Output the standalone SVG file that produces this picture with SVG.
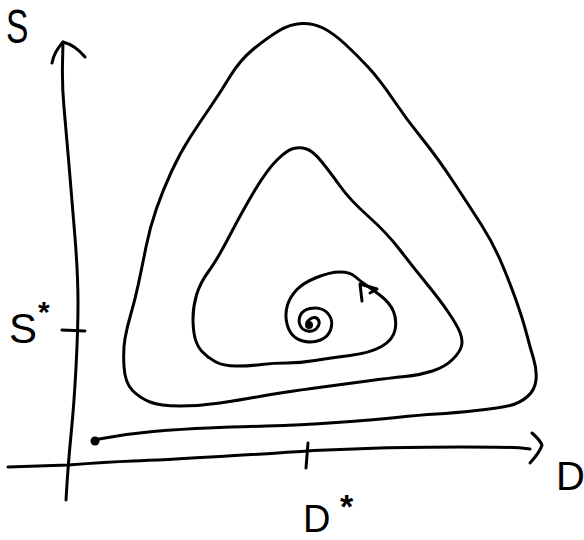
<svg xmlns="http://www.w3.org/2000/svg" width="584" height="540" viewBox="0 0 584 540">
<style>
.ln{fill:none;stroke:#000;stroke-width:3;stroke-linecap:round;stroke-linejoin:round}
.dot{fill:#000}
.lbl{font-family:"Liberation Sans",Arial,sans-serif;fill:#000}
.star{font-family:"Liberation Sans",Arial,sans-serif;fill:#000;font-weight:bold}
</style>
<rect width="584" height="540" fill="#fff"/>
<g id="axes">
  <g id="y-axis">
    <path class="ln" d="M66,500 Q68,465 71,435 Q74,405 76,367.5 Q78,330 78,302.5 Q78,275 75,237.5 Q72,200 69,165 Q66,130 64,107.5 Q62,85 62.5,63.5 L63,42"/>
    <path class="ln" d="M52,63 Q54,52 63,42 Q75,45 85,57"/>
    <path class="ln" d="M62,330 L85,331"/>
  </g>
  <g id="x-axis">
    <path class="ln" d="M8,467 L68,465 Q107,462 133,461 Q160,460 220,456.5 Q280,453 313.5,450.5 Q347,449 380,448 Q413,447 463,447 Q513,447 521.5,448 L530,449"/>
    <path class="ln" d="M532,433 Q540,440 542,445 Q540,452 530,463"/>
    <path class="ln" d="M308,443 L306,468"/>
  </g>
</g>
<g id="connectors">
  <path id="trajectory" class="ln" d="M93,440 Q123,434 153,431.5 Q183,429 208,428 Q233,427 266.5,426 Q300,425 336.5,422.5 Q373,420 396.5,417.5 Q420,415 436.5,414 Q453,413 476.5,410.5 Q500,408 510,405.5 Q520,403 527.5,396.5 Q535,390 536,380 Q537,370 533.5,358.5 Q530,347 526.5,333.5 Q523,320 516.5,301.5 Q510,283 501.5,263 Q493,243 481.5,225 Q470,207 453.5,182 Q437,157 422,138.5 Q407,120 393.5,100 Q380,80 368.5,67.5 Q357,55 345,44 Q333,33 323,28 Q313,23 301.5,23.5 Q290,24 278.5,31 Q267,38 253.5,49 Q240,60 230,76.5 Q220,93 210,107.5 Q200,122 190,137.5 Q180,153 171.5,171.5 Q163,190 156.5,208.5 Q150,227 146,247 Q142,267 138.5,283.5 Q135,300 131,313.5 Q127,327 125,338.5 Q123,350 124,366.5 Q125,383 132.5,390.5 Q140,398 150,402 Q160,406 180,406 Q200,406 220,403 Q240,400 253.5,397.5 Q267,395 283.5,392.5 Q300,390 322.5,387 Q345,384 367.5,381 Q390,378 405,376.5 Q420,375 432.5,371 Q445,367 452.5,359.5 Q460,352 461.5,346 Q463,340 460,332.5 Q457,325 448.5,312.5 Q440,300 426.5,283.5 Q413,267 400,250 Q387,233 368.5,216.5 Q350,200 340,186 Q330,172 321.5,161.5 Q313,151 306.5,149 Q300,147 293.5,148.5 Q287,150 277,160 Q267,170 255,190 Q243,210 230,235 Q217,260 208.5,271.5 Q200,283 196.5,295 Q193,307 193,318.5 Q193,330 195,338 Q197,346 202,351.5 Q207,357 215,361.5 Q223,366 236.5,366 Q250,366 261.5,364.5 Q273,363 286.5,363 Q300,363 315,360.5 Q330,358 350,355.5 Q370,353 381.5,346.5 Q393,340 395,330 Q397,320 393.5,311.5 Q390,303 381,296 Q372,289 366,285 Q360,281 355,276.5 Q350,272 340,272 Q330,272 316.5,277.5 Q303,283 296.5,290 Q290,297 287.5,305 Q285,313 286.5,321.5 Q288,330 292.5,335 Q297,340 305,341.5 Q313,343 320.5,340 Q328,337 330.5,330 Q333,323 330.5,317.5 Q328,312 322.5,309.5 Q317,307 310,308.5 Q303,310 300.5,315 Q298,320 300,325 Q302,330 307.5,331 Q313,332 316.5,328.5 Q320,325 319,321.5 Q318,318 315,317.5 Q312,317 309.5,319.5 L307,322"/>
  <path id="spiral-arrow" class="ln" d="M362,301 L360,284 L377,289 L370,293"/>
  <circle id="start-dot" class="dot" cx="95" cy="441" r="4.5"/>
  <circle id="end-dot" class="dot" cx="309" cy="325" r="4"/>
</g>
<g id="labels">
  <g id="label-S"><text class="lbl" font-size="48" transform="translate(6,43) scale(0.7,1)">S</text></g>
  <g id="label-Sstar"><text class="lbl" font-size="42" x="9" y="343">S</text><text class="star" font-size="30" x="38" y="322">*</text></g>
  <g id="label-D"><text class="lbl" font-size="40" x="556" y="490">D</text></g>
  <g id="label-Dstar"><text class="lbl" font-size="38" x="303" y="532">D</text><text class="star" font-size="34" x="340" y="518">*</text></g>
</g>
</svg>
